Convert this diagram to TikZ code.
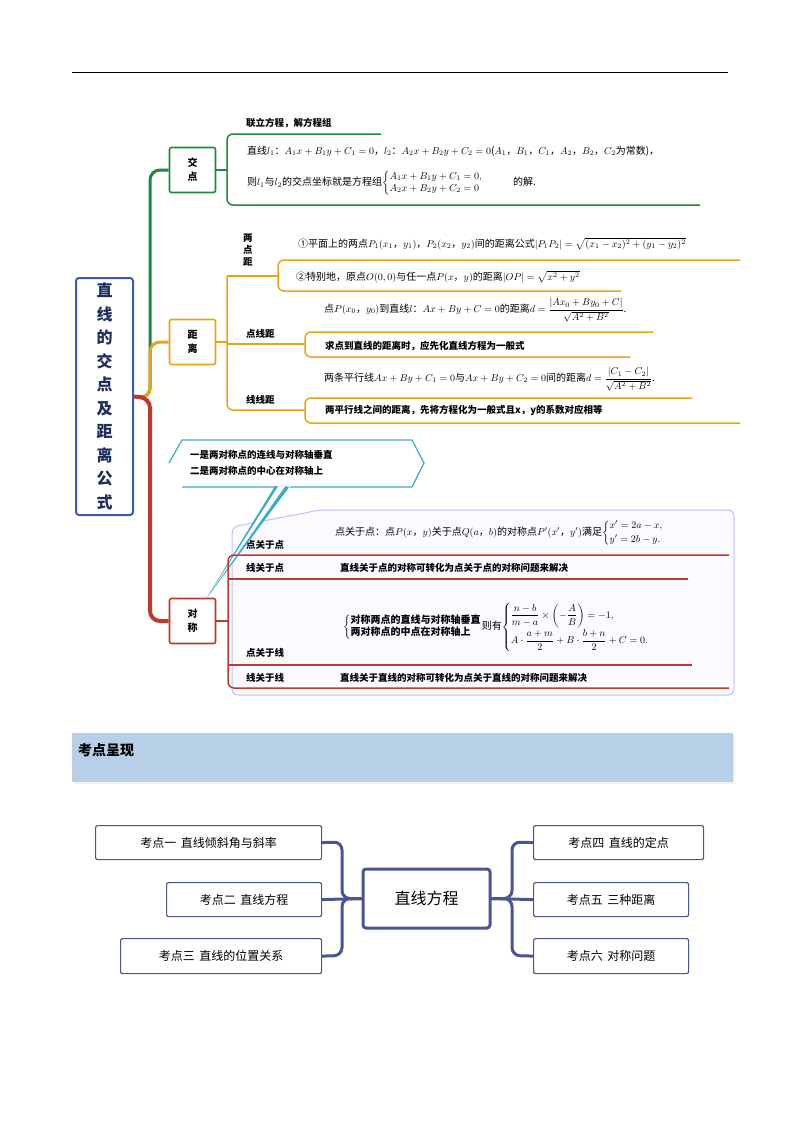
\documentclass[tikz,border=0pt]{standalone}
\usepackage{amsmath}
\usepackage{fontspec}
\setmainfont{Noto Sans CJK SC}
\usetikzlibrary{calc}
\definecolor{gr}{HTML}{1E8A3C}
\definecolor{og}{HTML}{E8A317}
\definecolor{rd}{HTML}{C0392B}
\definecolor{bl}{HTML}{3F5BA9}
\definecolor{nv}{HTML}{1F2F5C}
\definecolor{cy}{HTML}{3FA9C9}
\definecolor{mm}{HTML}{4B5592}
\tikzset{
 t/.style={anchor=west,inner sep=0,font=\fontsize{10}{12}\selectfont},
 tb/.style={anchor=west,inner sep=0,font=\fontsize{9.5}{11}\selectfont\bfseries},
 cbox/.style={draw=#1,line width=1.6pt,rounded corners=2pt,fill=white,minimum width=46pt,minimum height=45pt,align=center,font=\fontsize{10}{14}\selectfont\bfseries,inner sep=0},
 br/.style={draw=#1,line width=1.5pt,rounded corners=6pt},
 kbox/.style={draw=mm,line width=1.2pt,rounded corners=2pt,fill=white,anchor=north west,font=\fontsize{12}{14}\selectfont},
 mline/.style={draw=mm,line width=3pt,rounded corners=8pt}
}
\begin{document}
\begin{tikzpicture}[x=1pt,y=-1pt]
\useasboundingbox (0,0) rectangle (800,1132);
\fill[white] (0,0) rectangle (800,1132);
\draw[line width=0.8pt] (72,72) -- (728,72);
% symmetry region
\draw[draw=blue!25,fill=blue!2,line width=1pt,rounded corners=6pt] (232,527) -- (320,510) -- (734,510) -- (734,695) -- (232,695) -- cycle;
% main box
\node[draw=bl,line width=2pt,rounded corners=3pt,minimum width=57pt,minimum height=237pt,inner sep=0,font=\fontsize{16}{23.5}\selectfont\bfseries,text=nv,align=center] (main) at (104.5,396.5) {直\\线\\的\\交\\点\\及\\距\\离\\公\\式};
% category boxes
\node[cbox=gr] (jd) at (192.5,170) {交\\点};
\node[cbox=og] (jl) at (192.5,342) {距\\离};
\node[cbox=rd] (dc) at (192.5,621) {对\\称};
% trunk
\draw[gr,line width=3pt,rounded corners=10pt] (main.east) -- (150,398) -- (150,170) -- (jd.west);
\draw[og,line width=3pt,rounded corners=10pt] (main.east) -- (150,398) -- (150,342) -- (jl.west);
\draw[rd,line width=4pt,rounded corners=10pt] (main.east) -- (150,398) -- (150,621) -- (dc.west);
% jiaodian
\draw[br=gr] (381,134) -- (227,134) -- (227,205) -- (700,205);
\draw[gr,line width=1.5pt] (jd.east) -- (227,170);
\node[tb] (j1) at (246,123) {联立方程，解方程组};
\node[t] (j2) at (247,151) {直线\(l_1\)：\(A_1x+B_1y+C_1=0\)，\(l_2\)：\(A_2x+B_2y+C_2=0\)(\(A_1\)，\(B_1\)，\(C_1\)，\(A_2\)，\(B_2\)，\(C_2\)为常数)，};
\node[t] (j3) at (247,183) {则\(l_1\)与\(l_2\)的交点坐标就是方程组\(\left\{\begin{array}{@{}l@{}}A_1x+B_1y+C_1=0,\\A_2x+B_2y+C_2=0\end{array}\right.\)\hspace{3em}的解.};
% juli
\draw[br=og] (227,276) -- (227,410) -- (305,410);
\draw[og,line width=1.5pt] (jl.east) -- (227,342);
\draw[br=og] (227,276) -- (278,276);
\draw[br=og] (740,260) -- (278,260) -- (278,291) -- (621,291);
\draw[br=og] (227,344) -- (305,344);
\draw[br=og] (653,332) -- (305,332) -- (305,357) -- (630,357);
\draw[br=og] (692,398) -- (305,398) -- (305,423) -- (740,423);
\node[tb,align=center,font=\fontsize{9.5}{12}\selectfont\bfseries] (ld) at (243,250) {两\\点\\距};
\node[t] (l1) at (298,244) {①平面上的两点\(P_1(x_1\)，\(y_1)\)，\(P_2(x_2\)，\(y_2)\)间的距离公式\(|P_1P_2|=\sqrt{(x_1-x_2)^2+(y_1-y_2)^2}\)};
\node[t] (l2) at (296,277) {②特别地，原点\(O(0,0)\)与任一点\(P(x\)，\(y)\)的距离\(|OP|=\sqrt{x^2+y^2}\)};
\node[tb] (dx) at (246,334) {点线距};
\node[t] (l3) at (324,310) {点\(P(x_0\)，\(y_0)\)到直线\(l\)：\(Ax+By+C=0\)的距离\(d=\dfrac{|Ax_0+By_0+C|}{\sqrt{A^2+B^2}}\).};
\node[tb] (l4) at (325,346) {求点到直线的距离时，应先化直线方程为一般式};
\node[tb] (xx) at (246,400) {线线距};
\node[t] (l5) at (324,379) {两条平行线\(Ax+By+C_1=0\)与\(Ax+By+C_2=0\)间的距离\(d=\dfrac{|C_1-C_2|}{\sqrt{A^2+B^2}}\).};
\node[tb] (l6) at (325,410) {两平行线之间的距离，先将方程化为一般式且x，y的系数对应相等};
% callout
\fill[cy] (275,486) -- (290,486) -- (206,599) -- cycle;
\fill[white] (279,485) -- (286,485) -- (212,590) -- cycle;
\draw[cy,line width=1.2pt,fill=white] (169,463) -- (182,440) -- (412,440) -- (424,463) -- (412,487) -- (290,487) (275,487) -- (182,487) -- cycle;
\node[tb,align=left,font=\fontsize{9.5}{16}\selectfont\bfseries] (co) at (190,463) {一是两对称点的连线与对称轴垂直\\二是两对称点的中心在对称轴上};
% duichen
\draw[br=rd] (729,555) -- (228,555) -- (228,688) -- (729,688);
\draw[rd,line width=1.5pt] (dc.east) -- (228,621);
\draw[rd,line width=1.5pt] (228,579) -- (688,579);
\draw[rd,line width=1.5pt] (228,665) -- (692,665);
\node[tb] (s1) at (246,545) {点关于点};
\node[tb] (s2) at (246,568) {线关于点};
\node[tb] (s3) at (246,653) {点关于线};
\node[tb] (s4) at (246,678) {线关于线};
\node[t] (f1) at (335,533) {点关于点：点\(P(x\)，\(y)\)关于点\(Q(a\)，\(b)\)的对称点\(P'(x'\)，\(y')\)满足\(\left\{\begin{array}{@{}l@{}}x'=2a-x,\\[2pt] y'=2b-y.\end{array}\right.\)};
\node[tb] (f2) at (340,568) {直线关于点的对称可转化为点关于点的对称问题来解决};
\node[t] (f3) at (343,627) {\(\left\{\begin{array}{@{}l@{}}\text{\bfseries 对称两点的直线与对称轴垂直}\\ \text{\bfseries 两对称点的中点在对称轴上}\end{array}\right.\)则有\(\left\{\begin{array}{@{}l@{}}\dfrac{n-b}{m-a}\times\left(-\dfrac{A}{B}\right)=-1,\\[8pt] A\cdot\dfrac{a+m}{2}+B\cdot\dfrac{b+n}{2}+C=0.\end{array}\right.\)};
\node[tb] (f4) at (340,678) {直线关于直线的对称可转化为点关于直线的对称问题来解决};
% header band
\fill[blue!20!gray!10] (74,735) rectangle (735,784);
\fill[fill={rgb,255:red,184;green,207;blue,232}] (72,733) rectangle (733,782);
\node[anchor=west,inner sep=0,font=\fontsize{14}{16}\selectfont\bfseries] (hd) at (78,750) {考点呈现};
% bottom mindmap
\node[draw=mm,line width=3pt,rounded corners=3pt,fill=white,minimum width=127pt,minimum height=59pt,font=\fontsize{16}{18}\selectfont] (c) at (426.5,898.5) {直线方程};
\node[kbox,minimum width=226pt,minimum height=34pt] (k1) at (95,825) {考点一\, 直线倾斜角与斜率};
\node[kbox,minimum width=155pt,minimum height=34pt] (k2) at (166,882) {考点二\, 直线方程};
\node[kbox,minimum width=201pt,minimum height=35pt] (k3) at (120,938) {考点三\, 直线的位置关系};
\node[kbox,minimum width=170pt,minimum height=34pt] (k4) at (533,825) {考点四\, 直线的定点};
\node[kbox,minimum width=155pt,minimum height=34pt] (k5) at (533,882) {考点五\, 三种距离};
\node[kbox,minimum width=155pt,minimum height=35pt] (k6) at (533,938) {考点六\, 对称问题};
\draw[mline] (c.west) -- (342,898.5) -- (342,842) -- (k1.east);
\draw[mline] (c.west) -- (k2.east);
\draw[mline] (c.west) -- (342,898.5) -- (342,955.5) -- (k3.east);
\draw[mline] (c.east) -- (512,898.5) -- (512,842) -- (k4.west);
\draw[mline] (c.east) -- (k5.west);
\draw[mline] (c.east) -- (512,898.5) -- (512,955.5) -- (k6.west);
\end{tikzpicture}
\end{document}
